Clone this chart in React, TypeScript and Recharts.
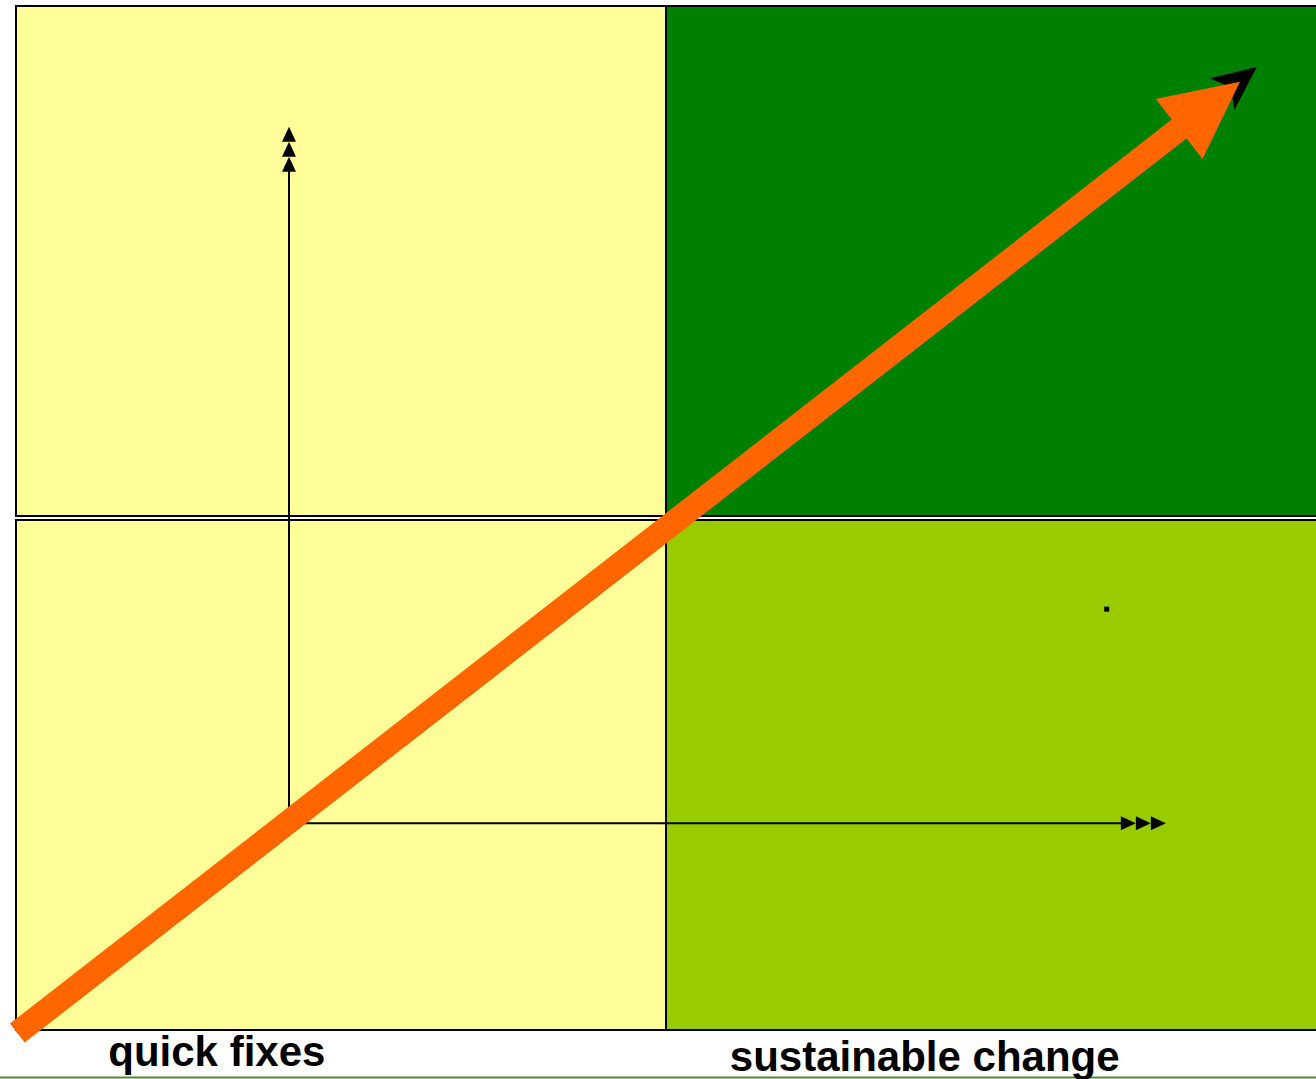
import React from 'react';
import { ComposedChart, XAxis, YAxis, ReferenceArea, ReferenceLine, Scatter } from 'recharts';

// quadrant bounds (data units, 2x2 grid)
const quadrantXs = [[0, 1], [1, 2.01], [0, 1], [1, 2.01]];
const quadrantYs = [[1.004, 2], [1.004, 2], [0, 0.996], [0, 0.996]];
const quadrantFills = ['#FFFF99', '#008000', '#FFFF99', '#99CC00'];

const categories = ['quick fixes', 'sustainable change'];
const categoryCenters = [0.309, 1.398];

// big trend arrow (orange) and the thin black one behind it
const trendStart = { x: 0.002, y: -0.006 };
const trendEnd = { x: 1.883, y: 1.852 };
const blackEnd = { x: 1.909, y: 1.881 };

// the two axis arrows from the origin corner
const axisOrigin = { x: 0.42, y: 0.404 };
const verticalEnd = { x: 0.42, y: 1.764 };
const horizontalEnd = { x: 1.769, y: 0.404 };

const markers = [{ x: 1.678, y: 0.822 }];

const baseLine = [{ x: -0.03, y: -0.093 }, { x: 2.01, y: -0.093 }];

type ArrowOpts = {
  color: string;
  width: number;
  headLen: number;
  headHalf: number;
  count?: number;
  notch?: number;
};

function arrowShape(opts: ArrowOpts) {
  return (p: any) => {
    const { x1, y1, x2, y2 } = p;
    const dx = x2 - x1;
    const dy = y2 - y1;
    const len = Math.sqrt(dx * dx + dy * dy) || 1;
    const ux = dx / len;
    const uy = dy / len;
    const nx = -uy;
    const ny = ux;
    const count = opts.count || 1;
    const notch = opts.notch || 0;
    const heads = [];
    for (let i = 0; i < count; i++) {
      const tx = x2 - ux * opts.headLen * i;
      const ty = y2 - uy * opts.headLen * i;
      const bx = tx - ux * opts.headLen;
      const by = ty - uy * opts.headLen;
      const mx = tx - ux * opts.headLen * (1 - notch);
      const my = ty - uy * opts.headLen * (1 - notch);
      const pts = [
        [tx, ty],
        [bx + nx * opts.headHalf, by + ny * opts.headHalf],
        [mx, my],
        [bx - nx * opts.headHalf, by - ny * opts.headHalf],
      ]
        .map((q) => q.join(','))
        .join(' ');
      heads.push(<polygon key={i} points={pts} fill={opts.color} />);
    }
    const shaftLen = opts.headLen * (count - 1) + opts.headLen * (1 - notch) * 0.9;
    return (
      <g>
        <line
          x1={x1}
          y1={y1}
          x2={x2 - ux * shaftLen}
          y2={y2 - uy * shaftLen}
          stroke={opts.color}
          strokeWidth={opts.width}
        />
        {heads}
      </g>
    );
  };
}

// second label sits a little lower in the original
const labelDy = [28, 33];

const CategoryTick = (props: any) => {
  const { x, y, index } = props;
  return (
    <text
      x={x}
      y={y + labelDy[index]}
      textAnchor="middle"
      fontFamily="'Liberation Sans', Arial, sans-serif"
      fontWeight="bold"
      fontSize={42}
      fill="#000"
    >
      {categories[index]}
    </text>
  );
};

const SquareDot = (props: any) => (
  <rect x={props.cx - 2.5} y={props.cy - 2.5} width={5} height={5} fill="#000" />
);

export default function App() {
  return (
    <div style={{ position: 'absolute', left: 0, top: 0, width: 1316, height: 1079, background: '#fff' }}>
      <ComposedChart width={1316} height={1079} margin={{ top: 6, right: 0, left: 16, bottom: 0 }}>
        <XAxis
          type="number"
          dataKey="x"
          domain={[0, 2]}
          allowDataOverflow
          ticks={categoryCenters}
          interval={0}
          axisLine={false}
          tickLine={false}
          height={49}
          tick={<CategoryTick />}
        />
        <YAxis type="number" dataKey="y" domain={[0, 2]} allowDataOverflow hide />
        {quadrantXs.map((qx, i) => (
          <ReferenceArea
            key={i}
            x1={qx[0]}
            x2={qx[1]}
            y1={quadrantYs[i][0]}
            y2={quadrantYs[i][1]}
            fill={quadrantFills[i]}
            fillOpacity={1}
            stroke="#000"
            strokeWidth={2}
            ifOverflow="visible"
          />
        ))}
        <ReferenceLine
          segment={baseLine}
          stroke="#4C8C2B"
          strokeWidth={2}
          ifOverflow="visible"
        />
        <ReferenceLine
          segment={[axisOrigin, verticalEnd]}
          ifOverflow="visible"
          shape={arrowShape({ color: '#000', width: 2, headLen: 15, headHalf: 7, count: 3 })}
        />
        <ReferenceLine
          segment={[axisOrigin, horizontalEnd]}
          ifOverflow="visible"
          shape={arrowShape({ color: '#000', width: 2, headLen: 15, headHalf: 7, count: 3 })}
        />
        <ReferenceLine
          segment={[trendStart, blackEnd]}
          ifOverflow="visible"
          shape={arrowShape({ color: '#000', width: 2, headLen: 44, headHalf: 20, notch: 0.25 })}
        />
        <ReferenceLine
          segment={[trendStart, trendEnd]}
          ifOverflow="visible"
          shape={arrowShape({ color: '#FF6600', width: 24, headLen: 77, headHalf: 38 })}
        />
        <Scatter data={markers} dataKey="y" shape={<SquareDot />} isAnimationActive={false} />
      </ComposedChart>
    </div>
  );
}
